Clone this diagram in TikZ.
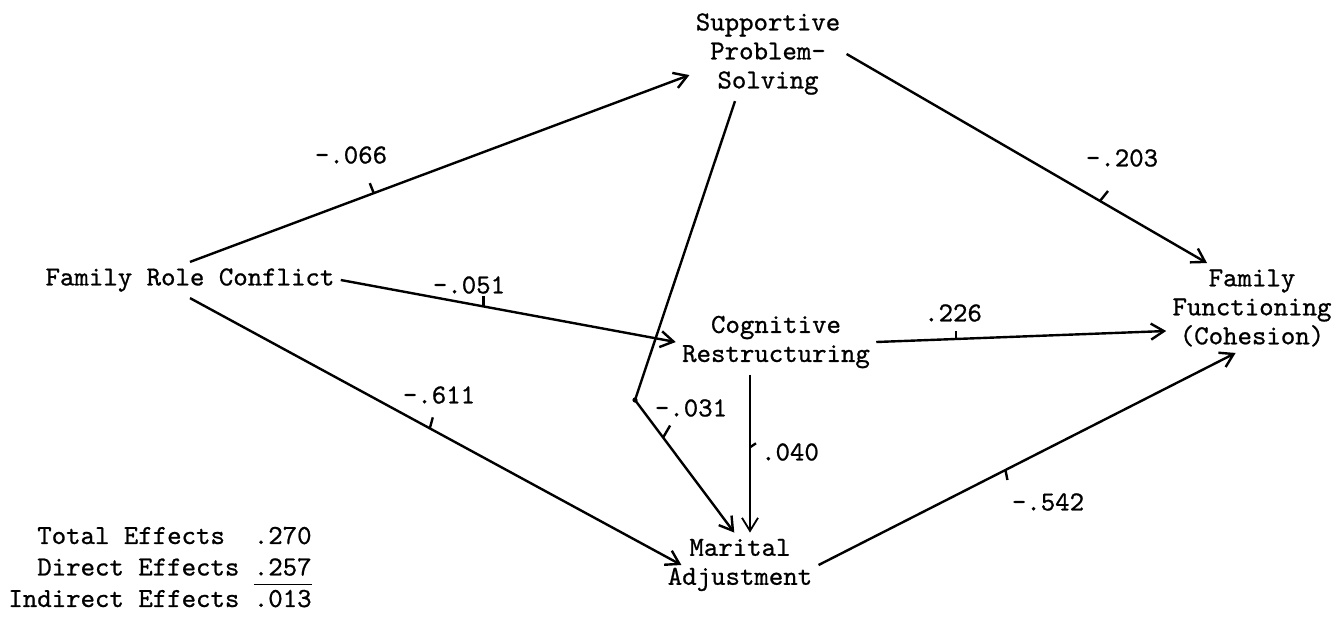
\documentclass[tikz,border=0pt]{standalone}
\usepackage{fontspec}
\setmonofont{lmmono10-regular.otf}[FakeBold=0.8]
\usepackage{tikz}
\usetikzlibrary{positioning,arrows.meta}

\begin{document}
\begin{tikzpicture}[x=0.5pt,y=-0.5pt,
	var/.style={font=\ttfamily\fontsize{13.75}{14.5}\selectfont, align=center, inner sep=3pt},
	coef/.style={font=\ttfamily\fontsize{13.75}{14.5}\selectfont, inner sep=0pt},
	link/.style={line width=1.2pt, -{Straight Barb[length=6.5pt,width=8pt]}},
	tick/.style={line width=1.2pt}]
\useasboundingbox (0,0) rectangle (1339,629);
\node[var] (frc) at (190,280) {Family Role Conflict};
\node[var] (sps) at (768,54) {Supportive\\Problem-\\Solving};
\node[var] (cr) at (776,342) {Cognitive\\Restructuring};
\node[var] (ma) at (740,565) {Marital\\Adjustment};
\node[var] (ff) at (1252,308) {Family\\Functioning\\(Cohesion)};
\coordinate (bend) at (635,400);

\draw[link] (frc.north) -- coordinate[pos=.368] (k066) (sps.195);
\draw[link] (frc.east) -- coordinate[pos=.426] (k051) (cr.west);
\draw[link] (frc.south) -- coordinate[pos=.488] (k611) ([xshift=10pt]ma.west);
\draw[link] (sps.235) -- (bend) -- coordinate[pos=.283] (k031) (ma.100);
\fill (bend) circle[radius=1.3pt];
\draw[link, line width=0.9pt] ([xshift=-13pt]cr.south) -- coordinate[pos=.46] (k040) ([xshift=-13pt]cr.south |- ma.north);
\draw[link] (cr.east) -- coordinate[pos=.274] (k226) (ff.195);
\draw[link] (sps.east) -- coordinate[pos=.703] (k203) (ff.135);
\draw[link] (ma.east) -- coordinate[pos=.448] (k542) (ff.250);

\draw[tick] (k066) -- ++(-4,-10);
\draw[tick] (k051) -- ++(0,-10);
\draw[tick] (k611) -- ++(3,-11);
\draw[tick] (k031) -- ++(7,-12);
\draw[tick] (k040) -- ++(6,-4);
\draw[tick] (k226) -- ++(0,-8);
\draw[tick] (k203) -- ++(8,-10);
\draw[tick] (k542) -- ++(2,10);

\node[coef] (c066) at (351,155) {-.066};
\node[coef] (c051) at (469,285) {-.051};
\node[coef] (c611) at (439,395) {-.611};
\node[coef] (c031) at (691,408) {-.031};
\node[coef] (c040) at (790,452) {.040};
\node[coef] (c226) at (953,313) {.226};
\node[coef] (c203) at (1122,158) {-.203};
\node[coef] (c542) at (1048,502) {-.542};

\node[coef, align=right, anchor=east, font=\ttfamily\fontsize{13.75}{15.75}\selectfont] (effects) at (312,567) {Total Effects\ \ .270\\Direct Effects \underline{\vphantom{y}.257}\\Indirect Effects .013};
\end{tikzpicture}
\end{document}
